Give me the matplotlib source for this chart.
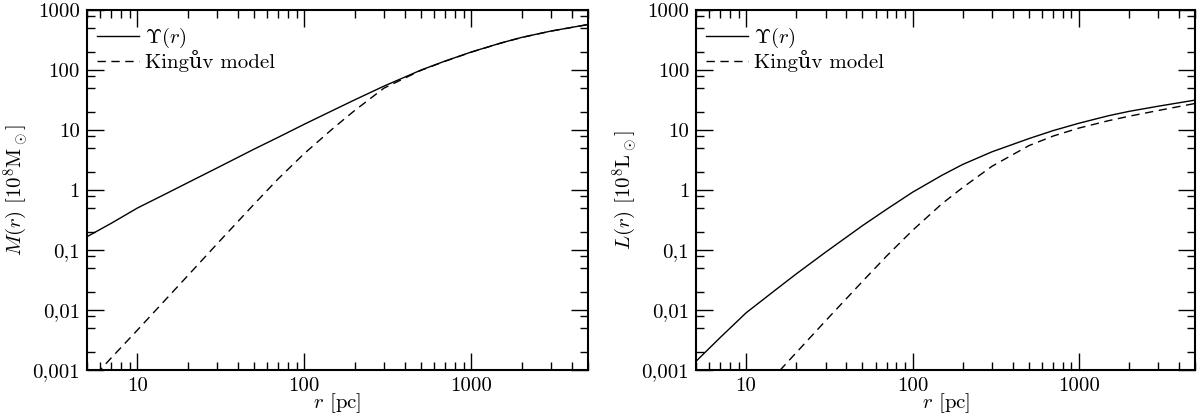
import numpy as np
import matplotlib
matplotlib.use("Agg")
from matplotlib import pyplot as plt
from matplotlib.ticker import FixedLocator, FixedFormatter, LogLocator, NullFormatter

plt.rcParams['font.family'] = ['cmr10', 'DejaVu Serif']
plt.rcParams['mathtext.fontset'] = 'cm'
plt.rcParams['axes.formatter.use_mathtext'] = True
plt.rcParams['font.size'] = 15

# radius grid [pc]
r = [5, 7, 10, 15, 20, 30, 50, 70, 100, 150, 200, 300, 500, 700, 1000, 1500, 2000, 3000, 5000]

# mass profile [1e8 Msun]
mass_upsilon = [0.167, 0.28, 0.5, 0.88, 1.32, 2.33, 4.8, 7.6, 12.5, 21.6, 31.8, 54, 100, 142, 200, 282, 350, 447, 575]
mass_king = [0.00058, 0.0016, 0.0046, 0.0156, 0.037, 0.126, 0.58, 1.55, 4.06, 10.9, 21.1, 50, 99, 141, 199, 281, 349, 446, 574]

# luminosity profile [1e8 Lsun]
lum_upsilon = [0.0014, 0.0035, 0.009, 0.0216, 0.040, 0.092, 0.255, 0.48, 0.92, 1.76, 2.67, 4.34, 7.2, 9.8, 13, 17.3, 20.5, 25, 31.6]
lum_king = [0.00003, 0.00009, 0.00024, 0.00082, 0.00195, 0.0066, 0.030, 0.080, 0.213, 0.59, 1.1, 2.49, 5.5, 7.95, 10.8, 14.3, 17, 21.2, 27.8]

ylabels = ["$M(r)$ [$10^8$M$_\\odot$]", "$L(r)$ [$10^8$L$_\\odot$]"]
yticks = [0.001, 0.01, 0.1, 1, 10, 100, 1000]
yticklabels = ["0,001", "0,01", "0,1", "1", "10", "100", "1000"]
xticks = [10, 100, 1000]
xticklabels = ["10", "100", "1000"]

fig = plt.figure(figsize=(12.03, 4.2), dpi=100)
ax1 = fig.add_axes([0.0723, 0.119, 0.4165, 0.857])
ax2 = fig.add_axes([0.5786, 0.119, 0.4150, 0.857])

for ax, solid, dashed, ylab in [(ax1, mass_upsilon, mass_king, ylabels[0]),
                                (ax2, lum_upsilon, lum_king, ylabels[1])]:
    ax.plot(r, solid, color="black", lw=1.0, label="$\\Upsilon(r)$")
    ax.plot(r, dashed, color="black", lw=1.0, ls=(0, (6, 4)), label="Kingův model")
    ax.set_xscale("log")
    ax.set_yscale("log")
    ax.set_xlim(5, 5000)
    ax.set_ylim(0.001, 1000)
    ax.xaxis.set_major_locator(FixedLocator(xticks))
    ax.xaxis.set_major_formatter(FixedFormatter(xticklabels))
    ax.xaxis.set_minor_locator(LogLocator(base=10, subs=np.arange(2, 10)))
    ax.xaxis.set_minor_formatter(NullFormatter())
    ax.yaxis.set_major_locator(FixedLocator(yticks))
    ax.yaxis.set_major_formatter(FixedFormatter(yticklabels))
    ax.yaxis.set_minor_locator(LogLocator(base=10, subs=[2, 5, 8]))
    ax.yaxis.set_minor_formatter(NullFormatter())
    ax.tick_params(which="both", direction="in", top=True, right=True, width=1.0)
    ax.tick_params(which="major", length=12, pad=5)
    ax.tick_params(which="minor", length=6)
    for s in ax.spines.values():
        s.set_linewidth(1.5)
    ax.set_xlabel("$r$ [pc]", labelpad=-3)
    ax.set_ylabel(ylab, labelpad=2)
    ax.legend(loc="upper left", bbox_to_anchor=(0.02, 0.955), frameon=False,
              handlelength=2.0, handletextpad=0.3, labelspacing=0.0,
              borderaxespad=0.0, borderpad=0.0, fontsize=15)

fig.savefig("out.png", dpi=100)
